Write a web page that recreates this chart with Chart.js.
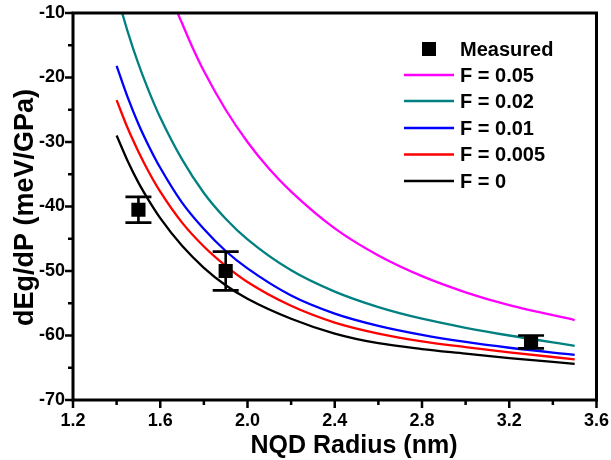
<!DOCTYPE html>
<html><head><meta charset="utf-8">
<script src="https://cdn.jsdelivr.net/npm/chart.js@4"></script>
<style>html,body{margin:0;padding:0;background:#fff}</style>
</head><body>
<canvas id="c" width="611" height="460"></canvas>
<script>
// ---- data ----
const radiusX   = [1.4,1.45,1.5,1.55,1.6,1.7,1.8,1.9,2.0,2.2,2.4,2.6,2.8,3.0,3.2,3.5];
const magentaX  = [1.6,1.68,1.7,1.75,1.8,1.9,2.0,2.1,2.2,2.4,2.6,2.8,3.0,3.2,3.5];
const f005 = [-2.6,-10.0,-11.6,-15.5,-19.0,-25.0,-30.0,-34.2,-37.7,-43.4,-47.6,-50.8,-53.3,-55.3,-57.6];
const f002 = [-7.0,-12.8,-17.9,-22.3,-26.2,-32.7,-37.9,-41.9,-45.1,-49.9,-53.2,-55.6,-57.4,-58.8,-60.0,-61.6];
const f001 = [-18.2,-23.0,-27.2,-30.8,-34.0,-39.4,-43.5,-46.9,-49.6,-53.8,-56.6,-58.5,-59.9,-61.0,-61.9,-63.0];
const f0005= [-23.5,-27.8,-31.5,-34.8,-37.7,-42.5,-46.2,-49.2,-51.7,-55.4,-58.0,-59.7,-60.9,-61.8,-62.6,-63.7];
const f0   = [-29.0,-32.9,-36.3,-39.2,-41.8,-46.1,-49.5,-52.2,-54.3,-57.4,-59.7,-61.2,-62.1,-62.8,-63.5,-64.4];
const measuredX   = [1.5, 1.9, 3.3];
const measuredY   = [-40.5, -50.0, -61.0];
const measuredErr = [2.0, 3.0, 1.0];
const seriesLabels = ['Measured','F = 0.05','F = 0.02','F = 0.01','F = 0.005','F = 0'];
const seriesColors = ['#000000','#FF00FF','#008080','#0000FF','#FF0000','#000000'];
const xTicks = [1.2,1.6,2.0,2.4,2.8,3.2,3.6];
const xTickLabels = ['1.2','1.6','2.0','2.4','2.8','3.2','3.6'];
const xMinorTicks = [1.4,1.8,2.2,2.6,3.0,3.4];
const yTicks = [-70,-60,-50,-40,-30,-20,-10];
const yTickLabels = ['-70','-60','-50','-40','-30','-20','-10'];
const yMinorTicks = [-65,-55,-45,-35,-25,-15];
const xTitle = 'NQD Radius (nm)';
const yTitle = 'dEg/dP (meV/GPa)';

const pts = (xs, ys) => xs.map((x, i) => ({x, y: ys[i]}));
const curve = (i, xs, ys) => ({
  label: seriesLabels[i], data: pts(xs, ys), borderColor: seriesColors[i],
  backgroundColor: seriesColors[i], borderWidth: 2.3, pointRadius: 0,
  cubicInterpolationMode: 'monotone', fill: false
});

const FONT = '"Liberation Sans", Arial, sans-serif';

const framePlugin = {
  id: 'frame',
  afterDatasetsDraw(chart) {
    const {ctx, chartArea: a, scales: {x, y}} = chart;
    ctx.save();
    // error bars
    ctx.strokeStyle = '#000'; ctx.lineWidth = 2.6; ctx.lineCap = 'butt';
    measuredX.forEach((mx, i) => {
      const px = x.getPixelForValue(mx);
      const y1 = y.getPixelForValue(measuredY[i] + measuredErr[i]);
      const y2 = y.getPixelForValue(measuredY[i] - measuredErr[i]);
      ctx.beginPath();
      ctx.moveTo(px, y1); ctx.lineTo(px, y2);
      ctx.moveTo(px - 13, y1); ctx.lineTo(px + 13, y1);
      ctx.moveTo(px - 13, y2); ctx.lineTo(px + 13, y2);
      ctx.stroke();
    });
    // frame
    ctx.lineWidth = 3;
    ctx.strokeRect(a.left, a.top, a.right - a.left, a.bottom - a.top);
    // ticks
    ctx.lineWidth = 2.5;
    ctx.beginPath();
    xTicks.forEach(v => { const p = x.getPixelForValue(v); ctx.moveTo(p, a.bottom); ctx.lineTo(p, a.bottom + 8); });
    xMinorTicks.forEach(v => { const p = x.getPixelForValue(v); ctx.moveTo(p, a.bottom); ctx.lineTo(p, a.bottom + 5); });
    yTicks.forEach(v => { const p = y.getPixelForValue(v); ctx.moveTo(a.left, p); ctx.lineTo(a.left - 8, p); });
    yMinorTicks.forEach(v => { const p = y.getPixelForValue(v); ctx.moveTo(a.left, p); ctx.lineTo(a.left - 5, p); });
    ctx.stroke();
    // axis titles
    ctx.fillStyle = '#000';
    ctx.font = 'bold 25px ' + FONT;
    ctx.textAlign = 'center'; ctx.textBaseline = 'alphabetic';
    ctx.fillText(xTitle, 354, 453);
    ctx.save();
    ctx.font = 'bold 27px ' + FONT;
    ctx.translate(33, (a.top + a.bottom) / 2 + 1);
    ctx.rotate(-Math.PI / 2);
    ctx.fillText(yTitle, 0, 0);
    ctx.restore();
    // legend
    ctx.font = 'bold 20px ' + FONT;
    ctx.textAlign = 'left'; ctx.textBaseline = 'middle';
    const rows = [49, 75, 101, 128, 154.5, 181];
    chart.data.datasets.forEach((ds, i) => {
      const ry = rows[i];
      if (i === 0) {
        ctx.fillStyle = ds.backgroundColor;
        ctx.fillRect(422, ry - 7, 14, 14);
      } else {
        ctx.strokeStyle = ds.borderColor; ctx.lineWidth = 2.6;
        ctx.beginPath(); ctx.moveTo(404, ry); ctx.lineTo(454, ry); ctx.stroke();
      }
      ctx.fillStyle = '#000';
      ctx.fillText(ds.label, 460, ry + 1);
    });
    ctx.restore();
  }
};

new Chart(document.getElementById('c'), {
  type: 'line',
  data: {
    datasets: [
      { label: seriesLabels[0], data: pts(measuredX, measuredY), showLine: false,
        pointStyle: 'rect', pointRadius: 10, pointHoverRadius: 10,
        backgroundColor: '#000', borderColor: '#000', borderWidth: 0 },
      curve(1, magentaX, f005),
      curve(2, radiusX, f002),
      curve(3, radiusX, f001),
      curve(4, radiusX, f0005),
      curve(5, radiusX, f0)
    ]
  },
  options: {
    responsive: false, animation: false, devicePixelRatio: 1,
    layout: { padding: { top: 13, right: 14, left: 0, bottom: 0 } },
    plugins: { legend: { display: false }, tooltip: { enabled: false } },
    scales: {
      x: {
        type: 'linear', min: 1.2, max: 3.6,
        afterBuildTicks: s => { s.ticks = xTicks.map(v => ({value: v})); },
        afterFit: s => { s.height = 60; },
        grid: { display: false, drawTicks: true, tickLength: 8 },
        border: { display: false },
        ticks: { color: '#000', padding: 2, maxRotation: 0, autoSkip: false,
          font: { family: FONT, size: 18, weight: 'bold' },
          callback: (v, i) => xTickLabels[i] }
      },
      y: {
        type: 'linear', min: -70, max: -10,
        afterBuildTicks: s => { s.ticks = yTicks.map(v => ({value: v})); },
        afterFit: s => { s.width = 73; },
        grid: { display: false, drawTicks: true, tickLength: 8 },
        border: { display: false },
        ticks: { color: '#000', padding: 0, autoSkip: false,
          font: { family: FONT, size: 18, weight: 'bold' },
          callback: (v, i) => yTickLabels[i] }
      }
    }
  },
  plugins: [framePlugin]
});
</script>
</body></html>
